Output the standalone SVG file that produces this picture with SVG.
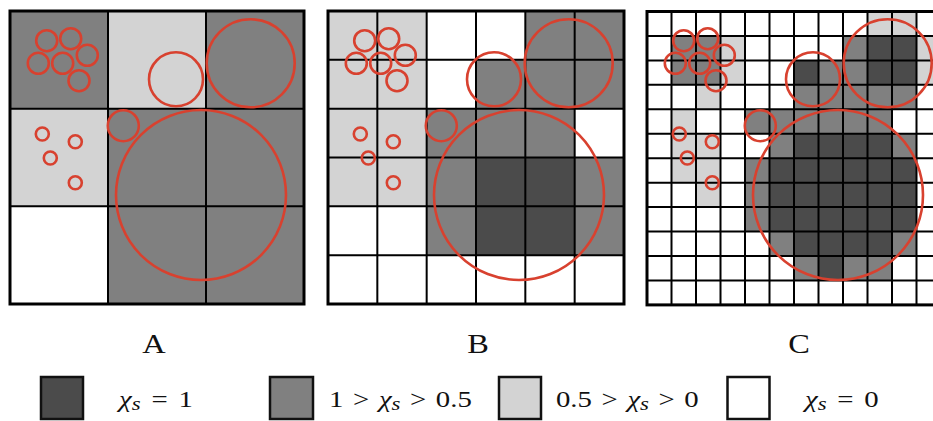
<svg xmlns="http://www.w3.org/2000/svg" xmlns:xlink="http://www.w3.org/1999/xlink" width="933" height="421" viewBox="0 0 933 421">
<style>
.d{fill:#4b4b4b}
.m{fill:#808080}
.l{fill:#d3d3d3}
.w{fill:#ffffff}
.grid{fill:none;stroke:#000;stroke-width:2}
.frame{fill:none;stroke:#000;stroke-width:3}
.ring{fill:none;stroke:#d8412f;stroke-width:2.6}
.lbl{font-family:"Liberation Serif","DejaVu Serif",serif;font-size:27px;fill:#111}
.leg{font-family:"Liberation Serif","DejaVu Serif",serif;font-size:24px;fill:#111}
.it{font-style:italic}
.sub{font-style:italic;font-size:19px}
.box{stroke:#111;stroke-width:2.5}
</style>
<defs>
<g id="bubbles">
<circle class="ring" cx="46.7" cy="40.7" r="10.5"/>
<circle class="ring" cx="70.7" cy="38.7" r="10.5"/>
<circle class="ring" cx="38.3" cy="63.3" r="10.5"/>
<circle class="ring" cx="62.7" cy="63.3" r="10.5"/>
<circle class="ring" cx="87.3" cy="55.3" r="10.5"/>
<circle class="ring" cx="79" cy="80.7" r="10.5"/>
<circle class="ring" cx="176" cy="79.3" r="27"/>
<circle class="ring" cx="250.7" cy="63.3" r="44"/>
<circle class="ring" cx="123.3" cy="125.7" r="15.5"/>
<circle class="ring" cx="201" cy="195" r="85"/>
<circle class="ring" cx="42.3" cy="134" r="6.5"/>
<circle class="ring" cx="75.3" cy="141.7" r="6.5"/>
<circle class="ring" cx="50.3" cy="158" r="6.5"/>
<circle class="ring" cx="75.3" cy="182.7" r="6.5"/>
</g>
</defs>
<rect width="933" height="421" fill="#fff"/>

<g id="panelA">
<rect class="w" x="10" y="11" width="294" height="293"/>
<rect class="m" x="10" y="11" width="98" height="97.7"/>
<rect class="l" x="108" y="11" width="98" height="97.7"/>
<rect class="m" x="206" y="11" width="98" height="97.7"/>
<rect class="l" x="10" y="108.7" width="98" height="97.6"/>
<rect class="m" x="108" y="108.7" width="196" height="195.3"/>
<path class="grid" d="M108 11V304M206 11V304M10 108.7H304M10 206.3H304"/>
<rect class="frame" x="10" y="11" width="294" height="293"/>
<use xlink:href="#bubbles" href="#bubbles"/>
</g>

<g id="panelB">
<rect class="w" x="328" y="11" width="296" height="293"/>
<rect class="l" x="328" y="11" width="98.67" height="195.33"/>
<rect class="m" x="525.33" y="11" width="98.67" height="48.83"/>
<rect class="m" x="476" y="59.83" width="148" height="48.84"/>
<rect class="m" x="426.67" y="108.67" width="148" height="48.83"/>
<rect class="m" x="426.67" y="157.5" width="49.33" height="97.67"/>
<rect class="m" x="574.67" y="157.5" width="49.33" height="97.67"/>
<rect class="d" x="476" y="157.5" width="98.67" height="97.67"/>
<path class="grid" d="M377.33 11V304M426.67 11V304M476 11V304M525.33 11V304M574.67 11V304M328 59.83H624M328 108.67H624M328 157.5H624M328 206.33H624M328 255.17H624"/>
<rect class="frame" x="328" y="11" width="296" height="293"/>
<use xlink:href="#bubbles" href="#bubbles" transform="translate(318 0)"/>
</g>

<g id="panelC">
<rect class="w" x="647" y="11.5" width="294" height="293.4"/>
<rect class="l" x="867.5" y="11.5" width="49" height="24.45"/>
<rect class="l" x="720.5" y="35.95" width="24.5" height="48.9"/>
<rect class="l" x="916.5" y="35.95" width="24.5" height="48.9"/>
<rect class="l" x="696" y="84.85" width="24.5" height="24.45"/>
<rect class="l" x="671.5" y="109.3" width="24.5" height="73.35"/>
<rect class="l" x="696" y="133.75" width="24.5" height="73.35"/>
<rect class="m" x="671.5" y="35.95" width="49" height="48.9"/>
<rect class="m" x="843" y="35.95" width="24.5" height="24.45"/>
<rect class="m" x="818.5" y="60.4" width="49" height="24.45"/>
<rect class="m" x="794" y="84.85" width="122.5" height="24.45"/>
<rect class="m" x="745" y="109.3" width="147" height="24.45"/>
<rect class="m" x="769.5" y="133.75" width="24.5" height="24.45"/>
<rect class="m" x="892" y="133.75" width="24.5" height="24.45"/>
<rect class="m" x="745" y="158.2" width="24.5" height="73.35"/>
<rect class="m" x="769.5" y="231.55" width="24.5" height="24.45"/>
<rect class="m" x="892" y="231.55" width="24.5" height="24.45"/>
<rect class="m" x="794" y="256" width="24.5" height="24.45"/>
<rect class="m" x="843" y="256" width="49" height="24.45"/>
<rect class="d" x="867.5" y="35.95" width="49" height="48.9"/>
<rect class="d" x="794" y="60.4" width="24.5" height="24.45"/>
<rect class="d" x="794" y="133.75" width="98" height="24.45"/>
<rect class="d" x="769.5" y="158.2" width="147" height="73.35"/>
<rect class="d" x="794" y="231.55" width="98" height="24.45"/>
<rect class="d" x="818.5" y="256" width="24.5" height="24.45"/>
<path class="grid" d="M671.5 11.5V304.9M696 11.5V304.9M720.5 11.5V304.9M745 11.5V304.9M769.5 11.5V304.9M794 11.5V304.9M818.5 11.5V304.9M843 11.5V304.9M867.5 11.5V304.9M892 11.5V304.9M916.5 11.5V304.9M647 35.95H941M647 60.4H941M647 84.85H941M647 109.3H941M647 133.75H941M647 158.2H941M647 182.65H941M647 207.1H941M647 231.55H941M647 256H941M647 280.45H941"/>
<rect class="frame" x="647" y="11.5" width="294" height="293.4"/>
<use xlink:href="#bubbles" href="#bubbles" transform="translate(637 0)"/>
</g>

<g id="labels" transform="scale(1.2 1)">
<text class="lbl" x="128.3" y="353" text-anchor="middle">A</text>
<text class="lbl" x="398.3" y="353" text-anchor="middle">B</text>
<text class="lbl" x="665.8" y="353" text-anchor="middle">C</text>
</g>

<g id="legend">
<rect class="box d" x="41" y="377" width="42" height="42"/>
<rect class="box m" x="270" y="377" width="43" height="42"/>
<rect class="box l" x="499" y="377" width="42" height="42"/>
<rect class="box w" x="727.5" y="377" width="42" height="42"/>
<g transform="scale(1.2 1)">
<text class="leg" x="99.2" y="407" word-spacing="3"><tspan class="it">χ</tspan><tspan class="sub" dy="3">s</tspan><tspan dy="-3"> = 1</tspan></text>
<text class="leg" x="274.2" y="407" word-spacing="2">1 &gt; <tspan class="it">χ</tspan><tspan class="sub" dy="3">s</tspan><tspan dy="-3"> &gt; 0.5</tspan></text>
<text class="leg" x="463.3" y="407" word-spacing="2">0.5 &gt; <tspan class="it">χ</tspan><tspan class="sub" dy="3">s</tspan><tspan dy="-3"> &gt; 0</tspan></text>
<text class="leg" x="670.8" y="407" word-spacing="3"><tspan class="it">χ</tspan><tspan class="sub" dy="3">s</tspan><tspan dy="-3"> = 0</tspan></text>
</g>
</g>
</svg>
